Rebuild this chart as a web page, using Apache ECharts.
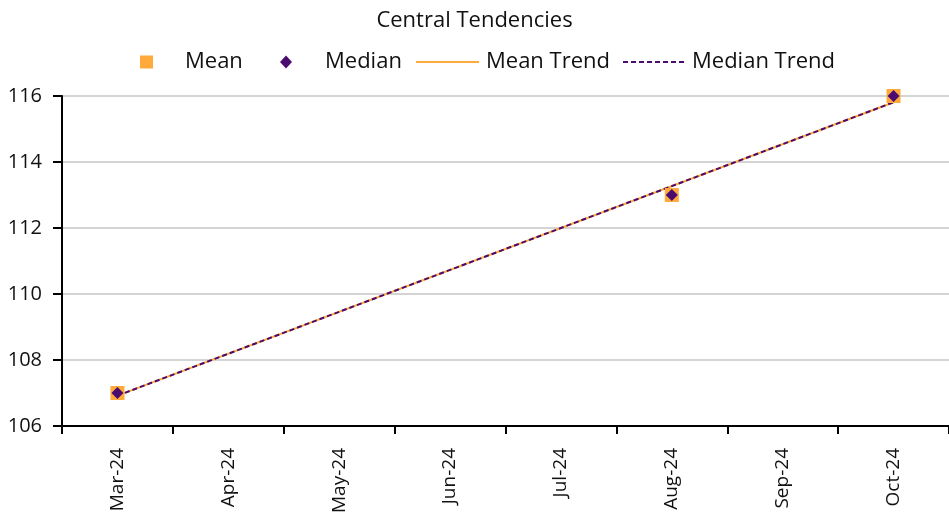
<!DOCTYPE html>
<html><head><meta charset="utf-8">
<script src="https://cdn.jsdelivr.net/npm/echarts@6/dist/echarts.min.js"></script>
<style>html,body{margin:0;padding:0;background:#fff}#c{width:949px;height:518px}</style>
</head><body><div id="c"></div>
<script>
const categories = ['Mar-24','Apr-24','May-24','Jun-24','Jul-24','Aug-24','Sep-24','Oct-24'];
const meanValues = [107, null, null, null, null, 113, null, 116];
const medianValues = [107, null, null, null, null, 113, null, 116];
const meanTrend = [['Mar-24', 106.92], ['Oct-24', 115.81]];
const medianTrend = [['Mar-24', 106.92], ['Oct-24', 115.81]];
const yTicks = [106, 108, 110, 112, 114, 116];

const ORANGE = '#FFAA3B';
const PURPLE = '#4B0A70';
const FONT = '"Open Sans", "Noto Sans", sans-serif';

const chart = echarts.init(document.getElementById('c'));
const legendText = {fontFamily: FONT, fontSize: 22, color: '#111'};
chart.setOption({
  animation: false,
  title: {text: 'Central Tendencies', left: 'center', top: 5,
    textStyle: {fontFamily: FONT, fontSize: 22, fontWeight: 'normal', color: '#111'}},
  legend: [
    {data: [{name: 'Mean', icon: 'rect'}], left: 135, top: 46, itemWidth: 13, itemHeight: 13,
      textStyle: Object.assign({}, legendText, {padding: [0,0,0,27]})},
    {data: [{name: 'Median', icon: 'diamond'}], left: 275, top: 46, itemWidth: 12, itemHeight: 13,
      textStyle: Object.assign({}, legendText, {padding: [0,0,0,28]})},
    {data: [{name: 'Mean Trend', itemStyle: {opacity: 0}}], left: 410, top: 46, itemWidth: 63, itemHeight: 14,
      textStyle: Object.assign({}, legendText, {padding: [0,0,0,2]})},
    {data: [{name: 'Median Trend', itemStyle: {opacity: 0}}], left: 617, top: 46, itemWidth: 62, itemHeight: 14,
      textStyle: Object.assign({}, legendText, {padding: [0,0,0,2]})}
  ],
  grid: {left: 62, right: -6, top: 96, bottom: 92, containLabel: false},
  xAxis: {
    type: 'category', data: categories, boundaryGap: true,
    axisLine: {lineStyle: {color: '#000', width: 2}},
    axisTick: {show: true, alignWithLabel: false, length: 8, lineStyle: {color: '#000', width: 2}},
    axisLabel: {rotate: 90, fontFamily: FONT, fontSize: 19, color: '#111', margin: 22}
  },
  yAxis: {
    type: 'value', min: yTicks[0], max: yTicks[yTicks.length-1], interval: 2,
    axisLine: {show: true, lineStyle: {color: '#000', width: 2}},
    axisTick: {show: true, length: 9, lineStyle: {color: '#000', width: 2}},
    axisLabel: {fontFamily: FONT, fontSize: 20, color: '#111', margin: 20},
    splitLine: {show: true, lineStyle: {color: '#d4d4d4', width: 2}}
  },
  series: [
    {name: 'Mean Trend', type: 'line', data: meanTrend, symbol: 'none', z: 2,
      lineStyle: {color: ORANGE, width: 2}, itemStyle: {color: ORANGE}},
    {name: 'Median Trend', type: 'line', data: medianTrend, symbol: 'none', z: 3,
      lineStyle: {color: PURPLE, width: 2, type: [5, 3]}, itemStyle: {color: PURPLE}},
    {name: 'Mean', type: 'scatter', data: meanValues, symbol: 'rect', symbolSize: 14, z: 4,
      itemStyle: {color: ORANGE, opacity: 1}},
    {name: 'Median', type: 'scatter', data: medianValues, symbol: 'diamond', symbolSize: 12, z: 5,
      itemStyle: {color: PURPLE, opacity: 1}}
  ]
});
</script></body></html>
